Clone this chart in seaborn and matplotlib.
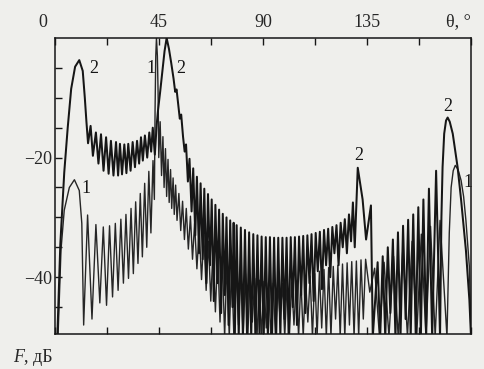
import numpy as np
import pandas as pd
import matplotlib
matplotlib.use("Agg")
import matplotlib.pyplot as plt
from matplotlib.transforms import ScaledTranslation
import seaborn as sns

# curve 2: left lobe and its sidelobes (theta in deg, F in dB)
c2_left_theta = [1.0, 2.3, 4.0, 5.5, 7.0, 8.7, 10.5, 12.0, 12.9, 13.6,
                 14.3, 15.4, 16.4, 17.7, 18.8, 19.9, 21.0, 22.1, 23.2, 24.2,
                 25.3, 26.4, 27.3, 28.1, 29.0, 30.0, 30.9, 31.7, 32.7, 33.6,
                 34.6, 35.5, 36.4, 37.2, 38.0, 38.9, 39.9, 40.8, 41.6, 42.3, 43.2]
c2_left_F = [-50.0, -34.5, -22.5, -15.0, -8.5, -4.8, -3.7, -5.5, -10.0, -14.0,
             -17.6, -14.7, -19.7, -15.8, -21.0, -16.1, -22.2, -16.6, -22.7, -17.2,
             -23.0, -17.4, -23.0, -17.7, -22.8, -17.8, -22.6, -17.7, -22.2, -17.4,
             -21.6, -17.2, -21.0, -16.6, -20.5, -16.3, -20.0, -15.8, -19.0, -15.0, -19.5]

# curve 2: main lobe and the right-hand staircase
c2_main_theta = [44.0, 44.6, 45.5, 46.5, 47.4, 48.3, 49.3, 50.3, 51.3, 52.0,
                 52.6, 53.4, 54.0, 54.6, 55.4, 56.1, 56.7, 57.5, 58.2, 59.1,
                 59.8, 60.7, 61.4, 62.3, 63.0, 63.9, 64.6, 65.5, 66.2, 67.1,
                 67.8, 68.7, 69.4, 70.3, 71.0, 71.9, 72.6, 73.5, 74.2, 75.1,
                 75.8, 76.8, 77.3]
c2_main_F = [-14.5, -12.0, -9.0, -5.5, -2.2, 0.0, -1.8, -4.2, -6.8, -9.0,
             -8.6, -11.5, -13.5, -12.8, -16.5, -19.0, -17.8, -24.0, -20.2, -29.0,
             -21.8, -33.0, -23.2, -36.0, -24.3, -37.0, -25.2, -41.0, -26.1, -38.0,
             -27.0, -44.0, -27.9, -41.0, -28.7, -46.0, -29.4, -43.0, -30.0, -48.0,
             -30.5, -45.0, -30.9]

# curve 2: dense sidelobes in the middle
c2_mid_theta = [77.8, 78.6, 79.5, 80.4, 81.3, 82.2, 83.1, 84.0, 84.9, 85.8,
                86.7, 87.6, 88.5, 89.4, 90.3, 91.2, 92.1, 93.0, 93.9, 94.8,
                95.7, 96.6, 97.5, 98.4, 99.3, 100.2, 101.1, 102.0, 102.9, 103.8,
                104.7, 105.6, 106.5, 107.4, 108.3, 109.2, 110.1, 111.0, 111.9, 112.8,
                113.7, 114.6, 115.5, 116.4, 117.3, 118.2, 119.1, 120.0, 120.9, 121.8,
                122.7, 123.6, 124.5, 125.4, 126.3, 127.2, 128.1, 128.9, 129.7]
c2_mid_F = [-50.0, -31.3, -50.0, -31.7, -50.0, -32.1, -50.0, -32.5, -50.0, -32.8,
            -50.0, -33.0, -50.0, -33.2, -50.0, -33.3, -50.0, -33.3, -50.0, -33.4,
            -50.0, -33.4, -50.0, -33.4, -47.0, -33.4, -50.0, -33.3, -45.0, -33.3,
            -48.0, -33.2, -43.0, -33.1, -46.0, -33.0, -41.0, -32.8, -44.0, -32.6,
            -39.0, -32.4, -42.0, -32.1, -38.0, -31.9, -40.0, -31.6, -36.0, -31.3,
            -38.0, -30.9, -35.0, -30.3, -36.0, -29.5, -34.0, -27.5, -35.0]

# curve 2: lobes at 131 and 170 deg
c2_right_theta = [131.0, 133.1, 134.6, 136.7, 137.5, 139.6, 140.7, 141.8, 142.9, 144.0,
                  145.1, 146.2, 147.3, 148.4, 149.5, 150.6, 151.7, 152.8, 153.9, 155.0,
                  156.1, 157.2, 158.3, 159.4, 160.6, 161.8, 163.2, 164.9, 166.6, 167.2,
                  167.7, 168.4, 169.2, 169.9, 170.8, 172.1, 174.2, 175.7, 177.8, 179.3, 180.0]
c2_right_F = [-21.7, -27.0, -33.7, -28.0, -50.0, -37.5, -50.0, -36.5, -50.0, -35.0,
              -46.0, -33.7, -50.0, -32.5, -50.0, -31.4, -47.0, -30.4, -50.0, -29.5,
              -50.0, -28.3, -50.0, -27.0, -50.0, -25.2, -50.0, -22.2, -50.0, -30.0,
              -21.6, -16.0, -13.8, -13.3, -14.0, -16.0, -21.6, -27.0, -35.5, -43.8, -50.0]

# curve 1: left lobe and sidelobes up to the main lobe
c1_left_theta = [1.3, 2.6, 4.0, 6.2, 8.4, 10.5, 11.6, 12.4, 14.1, 16.0,
                 17.7, 19.4, 20.9, 22.3, 23.6, 24.9, 26.1, 27.3, 28.5, 29.6,
                 30.7, 31.8, 32.9, 33.9, 34.9, 35.9, 36.9, 37.8, 38.8, 39.7,
                 40.6, 41.5, 42.4, 43.0]
c1_left_F = [-50.0, -35.4, -28.8, -25.0, -23.7, -25.5, -31.0, -48.0, -29.6, -47.0,
             -31.2, -44.3, -31.6, -44.7, -31.4, -43.3, -31.0, -42.2, -30.3, -41.0,
             -29.5, -40.2, -28.5, -39.4, -27.4, -37.7, -26.0, -36.6, -24.3, -35.0,
             -22.3, -32.6, -20.5, -27.0]

# curve 1: main lobe and right sidelobes
c1_main_theta = [43.3, 43.6, 43.9, 44.3, 44.6, 44.9, 45.5, 46.1, 46.7, 47.2,
                 47.8, 48.3, 48.9, 49.4, 50.0, 50.5, 51.1, 51.6, 52.2, 52.8,
                 53.6, 54.4, 55.2, 56.0, 56.8, 57.7, 58.6, 59.5, 60.4, 61.4,
                 62.4, 63.4, 64.4, 65.4, 66.4, 67.4, 68.4, 69.4, 70.4, 71.4,
                 72.4, 73.4]
c1_main_F = [-12.0, -3.0, 0.0, -3.0, -9.0, -20.0, -14.0, -23.0, -16.5, -25.0,
             -18.5, -26.5, -20.3, -27.5, -22.0, -28.5, -23.4, -29.5, -24.6, -30.5,
             -26.0, -32.2, -27.3, -33.7, -28.5, -35.3, -29.8, -37.0, -31.0, -38.6,
             -32.0, -40.4, -33.0, -42.2, -34.0, -44.0, -35.0, -45.8, -35.8, -47.5,
             -36.5, -50.0]

# curve 1: low sidelobes in the middle
c1_mid_theta = [74.4, 75.4, 76.4, 77.4, 78.4, 79.4, 80.4, 81.4, 82.4, 83.4,
                84.4, 85.4, 86.4, 87.4, 88.4, 89.4, 90.4, 91.4, 92.4, 93.4,
                94.4, 95.4, 96.4, 97.4, 98.4, 99.4, 100.4, 101.4, 102.4, 103.4,
                104.4, 105.4, 106.4, 107.4, 108.4, 109.4, 110.4, 111.4, 112.4, 113.4,
                114.4, 115.4, 116.4, 117.4, 118.4, 119.4, 120.4, 121.4, 122.4, 123.4,
                124.4, 125.4, 126.4, 127.4, 128.4, 129.4, 130.4, 131.4, 132.4, 133.4]
c1_mid_F = [-37.2, -50.0, -37.8, -50.0, -38.4, -48.0, -38.9, -50.0, -39.4, -50.0,
            -39.8, -47.5, -40.2, -50.0, -40.5, -50.0, -40.7, -48.5, -40.9, -50.0,
            -41.0, -50.0, -41.0, -47.0, -41.0, -50.0, -40.9, -50.0, -40.8, -48.0,
            -40.6, -50.0, -40.4, -50.0, -40.1, -47.5, -39.8, -50.0, -39.4, -50.0,
            -39.0, -48.5, -38.7, -50.0, -38.4, -50.0, -38.2, -47.0, -38.0, -50.0,
            -37.8, -50.0, -37.6, -48.0, -37.4, -50.0, -37.3, -50.0, -37.1, -47.0]

# curve 1: right sidelobes and lobe at 173 deg
c1_right_theta = [134.4, 136.2, 138.3, 140.4, 142.4, 144.5, 146.5, 148.5, 150.5, 152.5,
                  154.5, 156.5, 158.5, 160.5, 162.5, 164.5, 166.6, 169.6, 170.6, 171.4,
                  172.3, 173.2, 174.4, 175.7, 176.8, 177.8, 179.3, 180.0]
c1_right_F = [-37.0, -42.5, -38.5, -50.0, -37.5, -50.0, -36.5, -50.0, -35.3, -50.0,
              -34.0, -50.0, -32.8, -50.0, -31.5, -50.0, -30.5, -50.0, -32.6, -25.0,
              -22.2, -21.3, -22.0, -23.8, -26.5, -30.5, -38.3, -50.0]

x_labels = ["0", "", "45", "", "90", "", "135", "", ""]
y_labels = {-20: "\u221220", -40: "\u221240"}

curve1 = pd.DataFrame({
    "theta": c1_left_theta + c1_main_theta + c1_mid_theta + c1_right_theta,
    "F": c1_left_F + c1_main_F + c1_mid_F + c1_right_F})
curve2 = pd.DataFrame({
    "theta": c2_left_theta + c2_main_theta + c2_mid_theta + c2_right_theta,
    "F": c2_left_F + c2_main_F + c2_mid_F + c2_right_F})

sns.set_theme(style="white")
plt.rcParams["font.family"] = ["Liberation Serif", "DejaVu Serif"]
plt.rcParams["font.size"] = 13

paper = "#efefec"
ink = "#161616"

fig = plt.figure(figsize=(4.84, 3.69), dpi=100, facecolor=paper)
ax = fig.add_axes([55 / 484, 35 / 369, 416 / 484, 296 / 369])
ax.set_facecolor(paper)

# curve 2 prints darker than curve 1 in the scan
sns.lineplot(data=curve1, x="theta", y="F", sort=False, estimator=None,
             color="#262626", linewidth=1.0, ax=ax)
sns.lineplot(data=curve2, x="theta", y="F", sort=False, estimator=None,
             color=ink, linewidth=1.45, ax=ax)

ax.set_xlim(0, 180)
ax.set_ylim(-49.5, 0)
ax.set_xlabel("")
ax.set_ylabel("")

ax.set_xticks(np.arange(0, 181, 22.5))
ax.set_xticklabels(x_labels)
ax.tick_params(axis="x", direction="in", top=True, bottom=True, labeltop=True,
               labelbottom=False, length=5, width=1, color=ink, pad=5, labelsize=13)
# the "0" sits a little left of the frame in the original
t0 = ax.xaxis.get_major_ticks()[0].label2
t0.set_transform(t0.get_transform() + ScaledTranslation(-0.12, 0, fig.dpi_scale_trans))

yt = np.arange(-45, 0, 5)
ax.set_yticks(yt)
ax.set_yticklabels([y_labels.get(int(v), "") for v in yt])
ax.tick_params(axis="y", direction="in", left=True, right=False, length=5, width=1,
               color=ink, pad=2, labelsize=13)
for s in ax.spines.values():
    s.set_color(ink)
    s.set_linewidth(1.1)

ax.text(0.969, 1.055, "\u03b8, \u00b0", transform=ax.transAxes, ha="center", va="center", fontsize=13)
fig.text(13 / 484, 0.03, "F", style="italic", fontsize=13, va="center")
fig.text(24 / 484, 0.03, ", дБ", fontsize=13, va="center")

# curve numbers
for t, f, s in [(16.9, -5.1, "2"), (13.4, -25.1, "1"), (41.5, -5.1, "1"), (54.5, -5.1, "2"),
                (131.5, -19.7, "2"), (170.0, -11.4, "2"), (178.7, -24.1, "1")]:
    ax.text(t, f, s, ha="center", va="center", fontsize=13, color=ink)

fig.savefig("out.png", dpi=100, facecolor=paper)
